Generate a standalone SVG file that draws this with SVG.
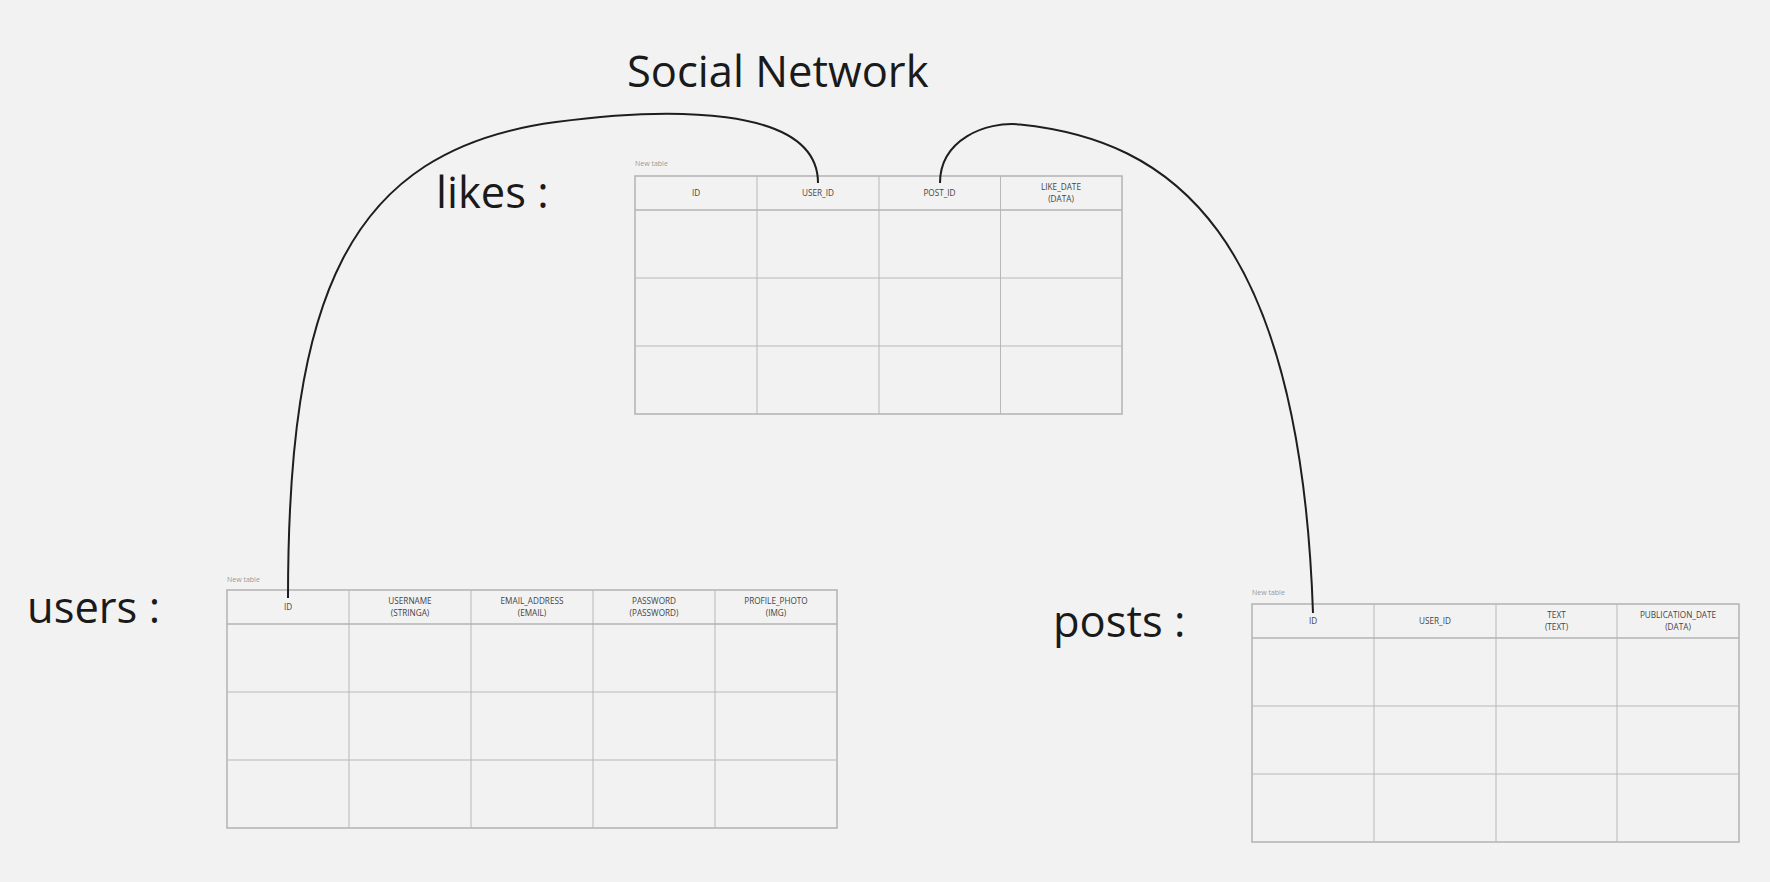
<svg xmlns="http://www.w3.org/2000/svg" width="1770" height="882" viewBox="0 0 1770 882">
<style>
.big{font-family:"Open Sans","Liberation Sans",sans-serif;font-size:43.5px;fill:#1a1a1a}
.hdr{font-family:"Open Sans","Liberation Sans",sans-serif;font-size:8.2px;fill:#444;text-anchor:middle}
.cap{font-family:"Open Sans","Liberation Sans",sans-serif;font-size:7px;fill:#999}
.frame{fill:#f2f2f2;stroke:#b3b3b3;stroke-width:1.5}
.grid{stroke:#b8b8b8;stroke-width:1;fill:none}
.conn{fill:none;stroke:#1e1e1e;stroke-width:2}
</style>
<rect width="1770" height="882" fill="#f2f2f2"/>
<g id="title"><text class="big" x="627" y="87">Social Network</text></g>
<g id="label-likes"><text class="big" x="436" y="208">likes :</text></g>
<g id="label-users"><text class="big" x="27" y="623">users :</text></g>
<g id="label-posts"><text class="big" x="1053" y="637">posts :</text></g>

<g id="table-likes">
<text class="cap" x="635" y="166">New table</text>
<rect class="frame" x="635" y="176" width="487" height="238"/>
<path class="grid" d="M757 176V414M879 176V414M1000.5 176V414M635 278H1122M635 346H1122"/>
<path d="M635 210H1122" stroke="#b3b3b3" stroke-width="1.6"/>
<text class="hdr" x="696" y="196">ID</text>
<text class="hdr" x="818" y="196">USER_ID</text>
<text class="hdr" x="939.5" y="196">POST_ID</text>
<text class="hdr" x="1061" y="190">LIKE_DATE</text>
<text class="hdr" x="1061" y="202">(DATA)</text>
</g>

<g id="table-users">
<text class="cap" x="227" y="582">New table</text>
<rect class="frame" x="227" y="590" width="610" height="238"/>
<path class="grid" d="M349 590V828M471 590V828M593 590V828M715 590V828M227 692H837M227 760H837"/>
<path d="M227 624H837" stroke="#b3b3b3" stroke-width="1.6"/>
<text class="hdr" x="288" y="610">ID</text>
<text class="hdr" x="410" y="604">USERNAME</text>
<text class="hdr" x="410" y="616">(STRINGA)</text>
<text class="hdr" x="532" y="604">EMAIL_ADDRESS</text>
<text class="hdr" x="532" y="616">(EMAIL)</text>
<text class="hdr" x="654" y="604">PASSWORD</text>
<text class="hdr" x="654" y="616">(PASSWORD)</text>
<text class="hdr" x="776" y="604">PROFILE_PHOTO</text>
<text class="hdr" x="776" y="616">(IMG)</text>
</g>

<g id="table-posts">
<text class="cap" x="1252" y="595">New table</text>
<rect class="frame" x="1252" y="604" width="487" height="238"/>
<path class="grid" d="M1374 604V842M1496 604V842M1617 604V842M1252 706H1739M1252 774H1739"/>
<path d="M1252 638H1739" stroke="#b3b3b3" stroke-width="1.6"/>
<text class="hdr" x="1313" y="624">ID</text>
<text class="hdr" x="1435" y="624">USER_ID</text>
<text class="hdr" x="1556.5" y="618">TEXT</text>
<text class="hdr" x="1556.5" y="630">(TEXT)</text>
<text class="hdr" x="1678" y="618">PUBLICATION_DATE</text>
<text class="hdr" x="1678" y="630">(DATA)</text>
</g>

<g id="connectors">
<path id="users-likes" class="conn" d="M288 598C288 300 345 150 556 122C660 108 818 103 818 183"/>
<path id="posts-likes" class="conn" d="M1313 613C1300 230 1170 140 1020 124.5C985 121 940 140 940 183"/>
</g>
</svg>
